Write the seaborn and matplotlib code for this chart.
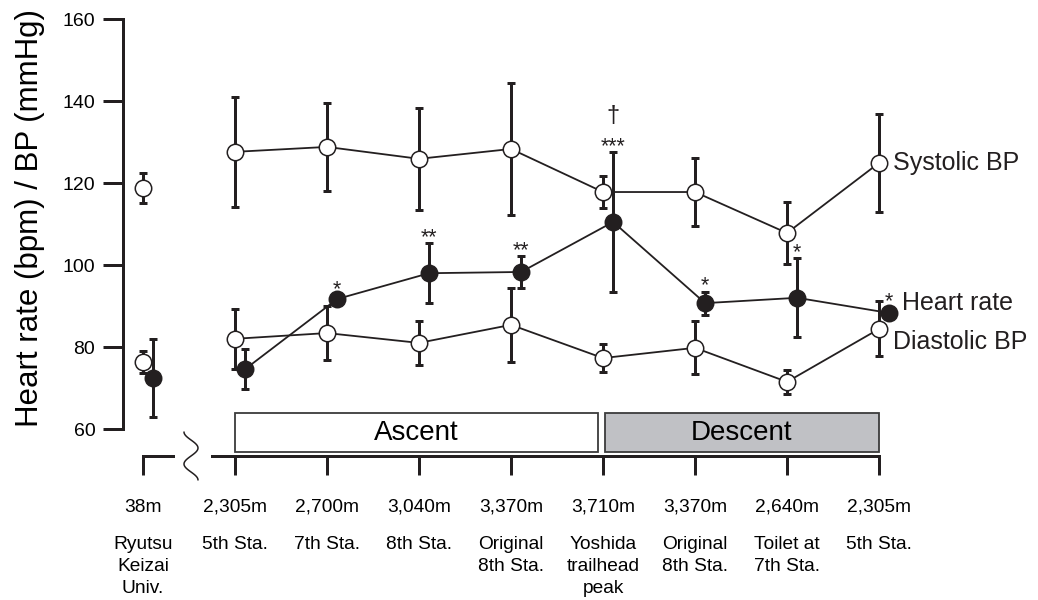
import numpy as np
import pandas as pd
import matplotlib
matplotlib.use("Agg")
import matplotlib.pyplot as plt
import seaborn as sns
from matplotlib.patches import Rectangle

# ---------------- data ----------------
altitudes = ["38m", "2,305m", "2,700m", "3,040m", "3,370m", "3,710m", "3,370m", "2,640m", "2,305m"]
sites = ["Ryutsu\nKeizai\nUniv.", "5th Sta.", "7th Sta.", "8th Sta.", "Original\n8th Sta.",
         "Yoshida\ntrailhead\npeak", "Original\n8th Sta.", "Toilet at\n7th Sta.", "5th Sta."]
systolic = [118.8, 127.6, 128.8, 125.9, 128.3, 117.8, 117.8, 107.8, 124.9]
systolic_sd = [3.7, 13.4, 10.7, 12.5, 16.0, 4.0, 8.2, 7.5, 12.0]
diastolic = [76.3, 82.0, 83.4, 81.0, 85.4, 77.3, 79.8, 71.5, 84.4]
diastolic_sd = [2.7, 7.3, 6.6, 5.3, 9.0, 3.4, 6.5, 3.0, 6.7]
heart_rate = [72.4, 74.6, 91.7, 98.0, 98.3, 110.5, 90.7, 92.0, 88.3]
heart_rate_sd = [9.5, 4.8, 1.0, 7.3, 3.9, 17.1, 2.8, 9.6, 1.5]
hr_marks = ["", "", "*", "**", "**", "***", "*", "*", "*"]
hr_dagger = ["", "", "", "", "", "\u2020", "", "", ""]
phase_names = ["Ascent", "Descent"]
series_names = ["Systolic BP", "Heart rate", "Diastolic BP"]
y_label = "Heart rate (bpm) / BP (mmHg)"

# ---------------- style ----------------
INK = "#231f20"
DESC_FILL = "#c0c1c5"
BOX_EDGE = "#3c3c3c"
sns.set_theme(style="ticks")
plt.rcParams["font.family"] = ["Liberation Sans", "DejaVu Sans"]

DPI = 100
PX = 72.0 / DPI                      # points per pixel
W, H = 1038, 600
X0, XSTEP = 143.0, 92.0              # pixel of first category, pixel step
Y160, YSCALE = 19.0, 4.1             # pixel of value 160, pixels per unit
AX_LEFT, AX_BOTTOM = 123.0, 456.0

fig = plt.figure(figsize=(W / DPI, H / DPI), dpi=DPI)
ax = fig.add_axes([AX_LEFT / W, (H - AX_BOTTOM) / H, (W - AX_LEFT) / W, (AX_BOTTOM - Y160) / H])
ax.set_xlim((AX_LEFT - X0) / XSTEP, (W - X0) / XSTEP)
ax.set_ylim(160 - (AX_BOTTOM - Y160) / YSCALE, 160)


def px2data(px, py):
    return (np.asarray(px) - X0) / XSTEP, 160 - (np.asarray(py) - Y160) / YSCALE


pos = np.arange(len(altitudes))
segment = np.where(pos == 0, 0, 1)
HR_OFF = 0.11

series = [
    (systolic, systolic_sd, 0.0, "white"),
    (diastolic, diastolic_sd, 0.0, "white"),
    (heart_rate, heart_rate_sd, HR_OFF, INK),
]

for vals, sd, off, face in series:
    df = pd.DataFrame({"x": pos + off, "y": vals, "seg": segment})
    sns.lineplot(data=df, x="x", y="y", units="seg", estimator=None, color=INK,
                 lw=1.3, ax=ax, zorder=2, legend=False)
    ax.errorbar(df["x"], df["y"], yerr=sd, fmt="none", ecolor=INK, elinewidth=3 * PX,
                capsize=3.0, capthick=3 * PX, zorder=3)
    sns.scatterplot(data=df, x="x", y="y", s=140, color=face, edgecolor=INK,
                    linewidth=1.1, ax=ax, zorder=4, legend=False)

# significance marks
for i, m in enumerate(hr_marks):
    if m:
        ax.annotate(m, xy=(i + HR_OFF, heart_rate[i] + heart_rate_sd[i]), xytext=(0, 4),
                    textcoords="offset points", ha="center", va="center",
                    fontsize=15.5, color=INK)
for i, m in enumerate(hr_dagger):
    if m:
        ax.annotate(m, xy=(i + HR_OFF, heart_rate[i] + heart_rate_sd[i]), xytext=(0, 26),
                    textcoords="offset points", ha="center", va="center",
                    fontsize=17, color=INK)

# series labels
last = len(pos) - 1
ax.annotate(series_names[0], xy=(last, systolic[last]), xytext=(10, 0),
            textcoords="offset points", ha="left", va="center", fontsize=18, color=INK)
ax.annotate(series_names[1], xy=(last + HR_OFF, heart_rate[last]), xytext=(9.5, 7),
            textcoords="offset points", ha="left", va="center", fontsize=18, color=INK)
ax.annotate(series_names[2], xy=(last, diastolic[last]), xytext=(10, -9.5),
            textcoords="offset points", ha="left", va="center", fontsize=18, color=INK)

# phase boxes
_, box_top = px2data(0, 413)
_, box_bot = px2data(0, 452)
ax.add_patch(Rectangle((1, box_bot), 3.95, box_top - box_bot, facecolor="white",
                       edgecolor=BOX_EDGE, lw=1.3, zorder=1))
ax.add_patch(Rectangle((5.02, box_bot), 8 - 5.02, box_top - box_bot, facecolor=DESC_FILL,
                       edgecolor=BOX_EDGE, lw=1.3, zorder=1))
ax.text((1 + 4.95) / 2, (box_top + box_bot) / 2, phase_names[0], ha="center", va="center",
        fontsize=20, color="black")
ax.text((5.02 + 8) / 2, (box_top + box_bot) / 2, phase_names[1], ha="center", va="center",
        fontsize=20, color="black")

# axes styling
for s in ("top", "right"):
    ax.spines[s].set_visible(False)
ax.spines["left"].set_linewidth(3 * PX)
ax.spines["left"].set_color(INK)
ax.spines["left"].set_bounds(60, 160)
ax.spines["bottom"].set_linewidth(3 * PX)
ax.spines["bottom"].set_color(INK)
brk_x, _ = px2data(212, 0)
ax.spines["bottom"].set_bounds(brk_x, last)

ax.set_yticks(np.arange(60, 161, 20))
ax.set_yticklabels([str(v) for v in range(60, 161, 20)])
ax.set_xticks(pos)
ax.set_xticklabels(altitudes)
ax.tick_params(axis="y", direction="out", length=20 * PX, width=3 * PX, pad=5.5,
               labelsize=14, color=INK, labelcolor="black")
ax.tick_params(axis="x", direction="out", length=19 * PX, width=3 * PX, pad=17,
               labelsize=13.8, color=INK, labelcolor="black")
ax.set_xlabel("")
ax.set_ylabel(y_label, fontsize=22.5, color="black")
ax.yaxis.set_label_coords((45 - AX_LEFT) / (W - AX_LEFT), 0.545)

# left fragment of the broken x-axis
fx0, _ = px2data(143, 0)
fx1, _ = px2data(173, 0)
ax.plot([fx0, fx1], [0, 0], transform=ax.get_xaxis_transform(), color=INK,
        lw=3 * PX, solid_capstyle="projecting", clip_on=False, zorder=5)

# break squiggle
t = np.linspace(0, 1, 60)
sqx, sqy = px2data(191 - 7 * np.cos(3 * np.pi * t), 432 + 48 * t)
ax.plot(sqx, sqy, color=INK, lw=1.1, clip_on=False, zorder=5)

# site names under the altitude labels
for i, s in enumerate(sites):
    ax.annotate(s, xy=(i, 0), xycoords=("data", "axes fraction"), xytext=(0, -80 * PX),
                textcoords="offset points", ha="center", va="top", multialignment="center",
                fontsize=13.8, linespacing=1.38, color="black", annotation_clip=False)

fig.savefig("out.png", dpi=DPI)
